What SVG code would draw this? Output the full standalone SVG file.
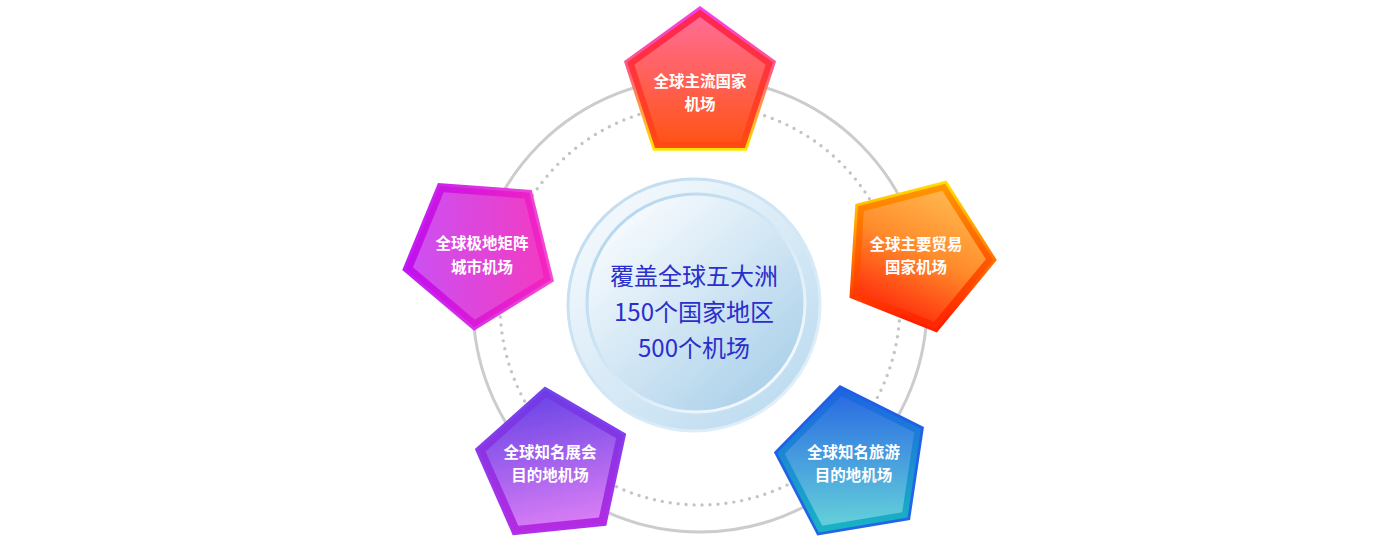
<svg xmlns="http://www.w3.org/2000/svg" width="1400" height="543" viewBox="0 0 1400 543">
<style>
.ring{fill:none;stroke:#cccccc;stroke-width:3}
.dots{fill:none;stroke:#c4c4c4;stroke-width:3.4;stroke-linecap:round;stroke-dasharray:0 8}
.lbl{font-family:"Noto Sans CJK SC","Noto Sans",sans-serif;font-size:15.5px;font-weight:bold;fill:#ffffff;text-anchor:middle}
.ctr{font-family:"Noto Sans CJK SC","Noto Sans",sans-serif;font-size:24px;fill:#2a2ecc;text-anchor:middle}
</style>
<defs>
<polygon id="p80" points="0,-80 76.08,-24.72 47.02,64.72 -47.02,64.72 -76.08,-24.72"/>
<polygon id="p77" points="0,-76.5 72.76,-23.64 44.97,61.89 -44.97,61.89 -72.76,-23.64"/>
<polygon id="p70" points="0,-69 65.62,-21.32 40.56,55.82 -40.56,55.82 -65.62,-21.32"/>
<linearGradient id="cOut" x1="0.15" y1="0.1" x2="0.85" y2="0.9"><stop offset="0" stop-color="#f3f9fd"/><stop offset="1" stop-color="#bedcf0"/></linearGradient>
<linearGradient id="cOutS" x1="0.15" y1="0.1" x2="0.85" y2="0.9"><stop offset="0" stop-color="#c2ddf1"/><stop offset="1" stop-color="#e2eff9"/></linearGradient>
<linearGradient id="cIn" x1="0.15" y1="0.1" x2="0.85" y2="0.9"><stop offset="0" stop-color="#f7fbfe"/><stop offset="1" stop-color="#acd1ea"/></linearGradient>
<linearGradient id="cInS" x1="0.15" y1="0.1" x2="0.85" y2="0.9"><stop offset="0" stop-color="#b6d7ee"/><stop offset="1" stop-color="#f3f9fd"/></linearGradient>
<linearGradient id="t1" x1="0" y1="0" x2="0" y2="1"><stop offset="0" stop-color="#f23cf0"/><stop offset="0.45" stop-color="#ff5a80"/><stop offset="1" stop-color="#ffe600"/></linearGradient>
<linearGradient id="t2" x1="0" y1="0" x2="0" y2="1"><stop offset="0" stop-color="#ff2458"/><stop offset="1" stop-color="#ff4a12"/></linearGradient>
<linearGradient id="t3" x1="0" y1="0" x2="0" y2="1"><stop offset="0" stop-color="#ff6c94"/><stop offset="1" stop-color="#ff5418"/></linearGradient>
<linearGradient id="r1" x1="0.5" y1="0" x2="0.5" y2="1" gradientTransform="rotate(-21.6 .5 .5)"><stop offset="0" stop-color="#ffea00"/><stop offset="1" stop-color="#ff1e00"/></linearGradient>
<linearGradient id="r2" x1="0.5" y1="0" x2="0.5" y2="1" gradientTransform="rotate(-21.6 .5 .5)"><stop offset="0" stop-color="#ff9c00"/><stop offset="1" stop-color="#ff2800"/></linearGradient>
<linearGradient id="r3" x1="0.7" y1="0.1" x2="0.3" y2="0.95" gradientTransform="rotate(-21.6 .5 .5)"><stop offset="0" stop-color="#ffb24a"/><stop offset="0.5" stop-color="#ff8a2a"/><stop offset="1" stop-color="#ff3a10"/></linearGradient>
<linearGradient id="l1" x1="0" y1="0.5" x2="1" y2="0.5" gradientTransform="rotate(31.7 .5 .5)"><stop offset="0" stop-color="#c018f4"/><stop offset="1" stop-color="#f24ad2"/></linearGradient>
<linearGradient id="l2" x1="0" y1="0.5" x2="1" y2="0.5" gradientTransform="rotate(31.7 .5 .5)"><stop offset="0" stop-color="#c010ee"/><stop offset="1" stop-color="#f424c0"/></linearGradient>
<linearGradient id="l3" x1="0" y1="0.5" x2="1" y2="0.5" gradientTransform="rotate(31.7 .5 .5)"><stop offset="0" stop-color="#cc50f2"/><stop offset="1" stop-color="#f03cc4"/></linearGradient>
<linearGradient id="bl1" x1="0.5" y1="0" x2="0.5" y2="1" gradientTransform="rotate(5.8 .5 .5)"><stop offset="0" stop-color="#7044ec"/><stop offset="1" stop-color="#b22ee8"/></linearGradient>
<linearGradient id="bl2" x1="0.5" y1="0" x2="0.5" y2="1" gradientTransform="rotate(5.8 .5 .5)"><stop offset="0" stop-color="#6c3ce6"/><stop offset="1" stop-color="#b42ae2"/></linearGradient>
<linearGradient id="bl3" x1="0.4" y1="0" x2="0.6" y2="1" gradientTransform="rotate(5.8 .5 .5)"><stop offset="0" stop-color="#6e46e6"/><stop offset="1" stop-color="#d67cf4"/></linearGradient>
<linearGradient id="br1" x1="0.5" y1="0" x2="0.5" y2="1" gradientTransform="rotate(9.5 .5 .5)"><stop offset="0" stop-color="#1e5ee6"/><stop offset="1" stop-color="#2266e6"/></linearGradient>
<linearGradient id="br2" x1="0.5" y1="0" x2="0.5" y2="1" gradientTransform="rotate(9.5 .5 .5)"><stop offset="0" stop-color="#1e62e2"/><stop offset="1" stop-color="#18b2c4"/></linearGradient>
<linearGradient id="br3" x1="0.5" y1="0" x2="0.5" y2="1" gradientTransform="rotate(9.5 .5 .5)"><stop offset="0" stop-color="#2a6ce2"/><stop offset="1" stop-color="#62ccda"/></linearGradient>
</defs>
<rect width="1400" height="543" fill="#ffffff"/>
<g id="rings">
<circle class="ring" cx="700" cy="305" r="227"/>
<circle class="dots" cx="700" cy="305" r="200"/>
</g>
<g id="center">
<circle cx="694" cy="305" r="126" fill="url(#cOut)" stroke="url(#cOutS)" stroke-width="3"/>
<circle cx="696" cy="303" r="109" fill="url(#cIn)" stroke="url(#cInS)" stroke-width="3"/>
<text class="ctr" x="694" y="285">覆盖全球五大洲</text>
<text class="ctr" x="694" y="321">150个国家地区</text>
<text class="ctr" x="694" y="357">500个机场</text>
</g>
<g id="n-top">
<g transform="translate(700,86)">
<use href="#p80" fill="url(#t1)"/><use href="#p77" fill="url(#t2)"/><use href="#p70" fill="url(#t3)"/>
</g>
<text class="lbl" x="700" y="86.5">全球主流国家</text>
<text class="lbl" x="700" y="109.5">机场</text>
</g>
<g id="n-right">
<g transform="translate(917,255) rotate(21.6)">
<use href="#p80" fill="url(#r1)"/><use href="#p77" fill="url(#r2)"/><use href="#p70" fill="url(#r3)"/>
</g>
<text class="lbl" x="916" y="249.5">全球主要贸易</text>
<text class="lbl" x="916" y="273">国家机场</text>
</g>
<g id="n-left">
<g transform="translate(480,251) rotate(-31.7)">
<use href="#p80" fill="url(#l1)"/><use href="#p77" fill="url(#l2)"/><use href="#p70" fill="url(#l3)"/>
</g>
<text class="lbl" x="482" y="249">全球极地矩阵</text>
<text class="lbl" x="482" y="272.5">城市机场</text>
</g>
<g id="n-bottom-left">
<g transform="translate(553,466) rotate(-5.8)">
<use href="#p80" fill="url(#bl1)"/><use href="#p77" fill="url(#bl2)"/><use href="#p70" fill="url(#bl3)"/>
</g>
<text class="lbl" x="550" y="458">全球知名展会</text>
<text class="lbl" x="550" y="480.5">目的地机场</text>
</g>
<g id="n-bottom-right">
<g transform="translate(853,464) rotate(-9.5)">
<use href="#p80" fill="url(#br1)"/><use href="#p77" fill="url(#br2)"/><use href="#p70" fill="url(#br3)"/>
</g>
<text class="lbl" x="853.5" y="458">全球知名旅游</text>
<text class="lbl" x="853.5" y="481">目的地机场</text>
</g>
</svg>
